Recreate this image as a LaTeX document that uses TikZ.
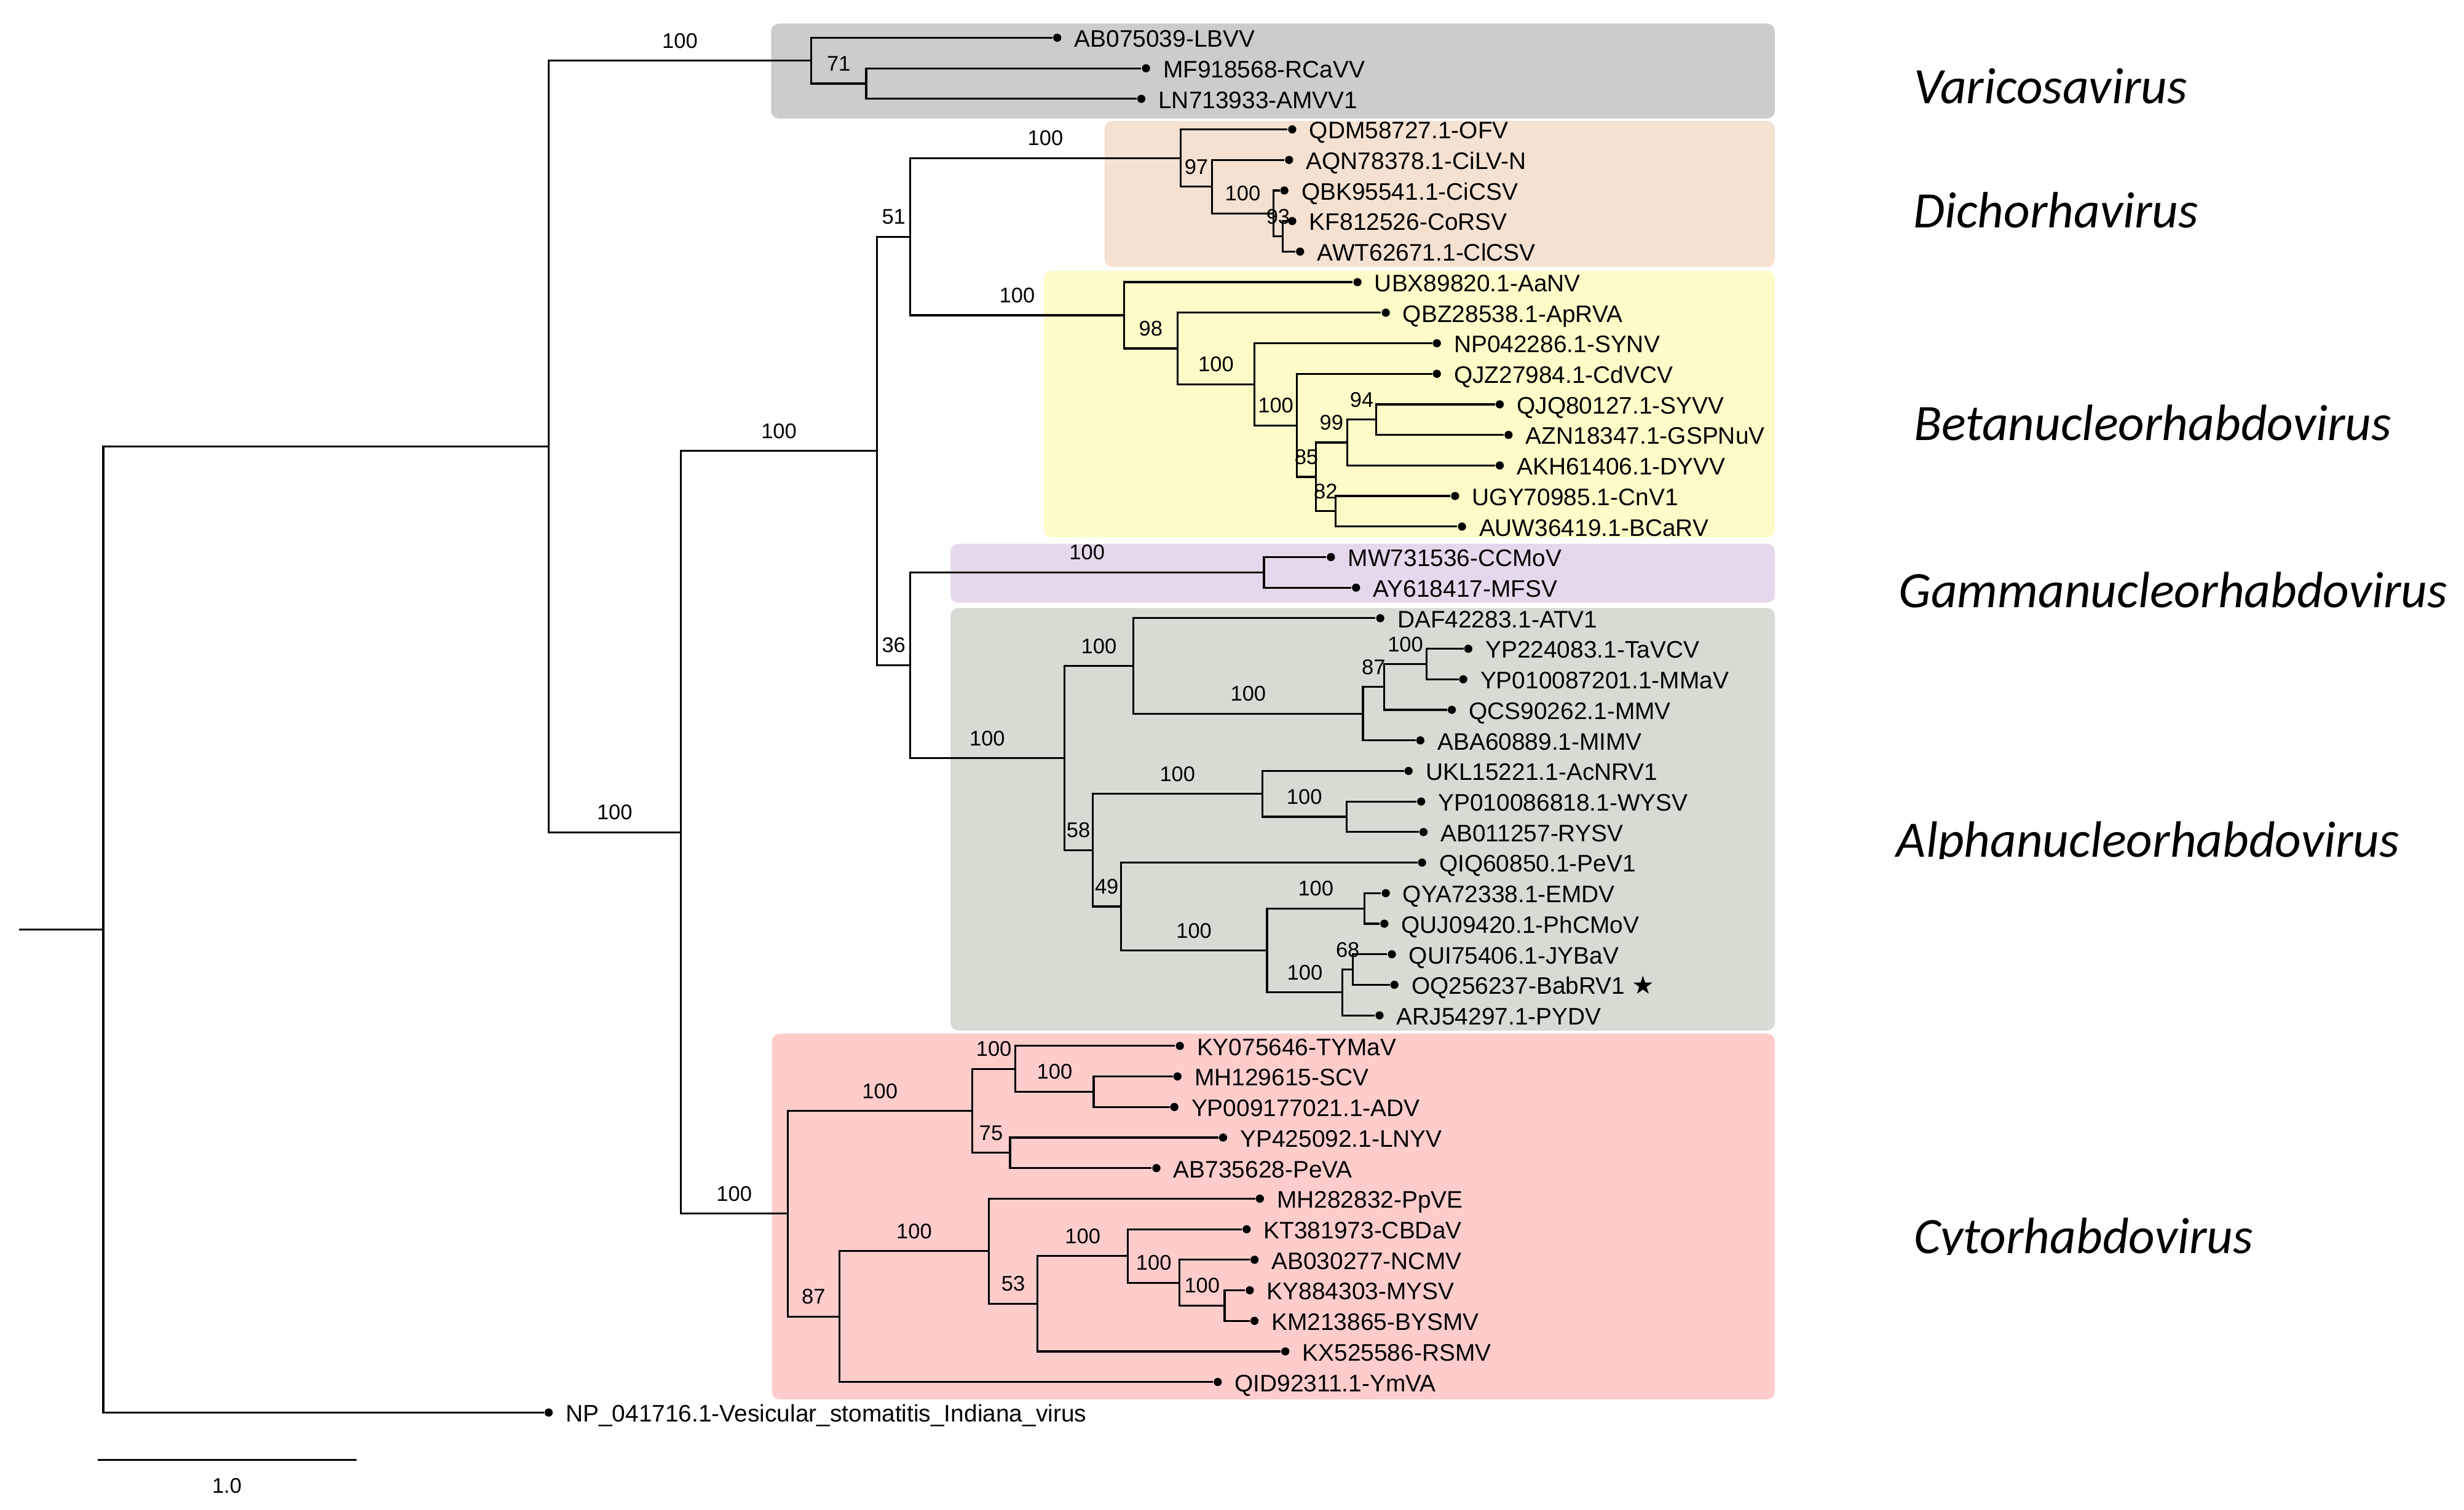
\documentclass[tikz,border=0pt]{standalone}
\usepackage{fontspec}
\setmainfont{Liberation Sans}
\newfontfamily\genusfont{Carlito}
\newfontfamily\symfont{DejaVu Sans}
\usetikzlibrary{calc}
\definecolor{varbg}{HTML}{CCCCCC}
\definecolor{dichbg}{HTML}{F4E1D2}
\definecolor{betabg}{HTML}{FDFCC9}
\definecolor{gammabg}{HTML}{E6D8EC}
\definecolor{alphabg}{HTML}{D5DDD3}
\definecolor{cytobg}{HTML}{FFCCCC}
\newcommand{\mkbr}[3]{\draw[branch] (#1) |- node[bs,pos=0.75]{#3} (#2);}
\newcommand{\mktip}[5]{%
  \node[tipdot] (#1) at (#3,#4) {};
  \draw[branch] (#2) |- (#1);
  \node[tiplab] (#1lab) at ($(#1.center)+(10.5,6)$) {#5};}
\begin{document}
\begin{tikzpicture}[x=0.5pt,y=-0.5pt,
  branch/.style={line width=0.62pt, black},
  bs/.style={font=\fontsize{6.75}{7}\selectfont, anchor=base, inner sep=0pt, yshift=4pt},
  tipdot/.style={circle, fill=black, inner sep=0pt, minimum size=2.6pt},
  tiplab/.style={font=\fontsize{7.6}{9}\selectfont, anchor=base west, inner sep=0pt},
  genus/.style={font=\genusfont\itshape\fontsize{16.25}{18}\selectfont, anchor=base west, inner sep=0pt},
  clade/.style={rounded corners=2.5pt}]
\useasboundingbox (0,0) rectangle (1567.4,960.6);
% clade boxes
\fill[varbg,clade] (490.5,15) rectangle (1129,75.4);
\fill[dichbg,clade] (702.6,77) rectangle (1129,170);
\fill[betabg,clade] (664,172.3) rectangle (1129,342);
\fill[gammabg,clade] (604.6,346) rectangle (1129,383.5);
\fill[alphabg,clade] (604.6,386.9) rectangle (1129,655.8);
\fill[cytobg,clade] (491,657.7) rectangle (1129,890.5);
% internal nodes
\coordinate (stub) at (12,591.45);
\coordinate (R) at (65.7,591.45);
\coordinate (A) at (349,284.1);
\coordinate (V0) at (516,38.58);
\coordinate (V1) at (551,53.16);
\coordinate (B) at (433,529.6);
\coordinate (C) at (558,286.94);
\coordinate (D) at (579,150.59);
\coordinate (Dich1) at (751,100.55);
\coordinate (Dich2) at (771,118.77);
\coordinate (Dich3) at (810,135.78);
\coordinate (Dich4) at (816,150.36);
\coordinate (B0) at (715,200.63);
\coordinate (B1) at (749,221.74);
\coordinate (B2) at (798,244.52);
\coordinate (B3) at (825,270.65);
\coordinate (B4) at (837,303.45);
\coordinate (B5) at (857,281.58);
\coordinate (B6) at (875.5,267.0);
\coordinate (B7) at (849.5,325.32);
\coordinate (E) at (579,423.28);
\coordinate (G) at (804,364.2);
\coordinate (A0) at (677,482.36);
\coordinate (A1) at (721,423.74);
\coordinate (A2) at (867,454.11);
\coordinate (A3) at (880.5,437.1);
\coordinate (A4) at (907.5,422.52);
\coordinate (A5) at (695,540.98);
\coordinate (A11) at (803,505.14);
\coordinate (A12) at (856.5,519.72);
\coordinate (A6) at (713,576.83);
\coordinate (A7) at (806,604.77);
\coordinate (A8) at (868,578.04);
\coordinate (A9) at (854,631.5);
\coordinate (A10) at (860.6,616.92);
\coordinate (C0) at (501,772.29);
\coordinate (C1) at (618.4,706.83);
\coordinate (C2) at (646,680.1);
\coordinate (C3) at (695.7,694.68);
\coordinate (C4) at (642.5,733.56);
\coordinate (C5) at (534,837.75);
\coordinate (C6) at (629,796.13);
\coordinate (C7) at (660,829.55);
\coordinate (C8) at (717.5,799.17);
\coordinate (C9) at (750.3,816.18);
\coordinate (C10) at (779,830.76);
% internal branches
\draw[branch] (stub) -- (R);
\mkbr{R}{A}{}
\mkbr{A}{V0}{100}
\mkbr{V0}{V1}{71}
\mkbr{A}{B}{100}
\mkbr{B}{C}{100}
\mkbr{C}{D}{51}
\mkbr{C}{E}{36}
\mkbr{D}{Dich1}{100}
\mkbr{Dich1}{Dich2}{97}
\mkbr{Dich2}{Dich3}{100}
\mkbr{Dich3}{Dich4}{93}
\mkbr{D}{B0}{100}
\mkbr{B0}{B1}{98}
\mkbr{B1}{B2}{100}
\mkbr{B2}{B3}{100}
\mkbr{B3}{B4}{85}
\mkbr{B4}{B5}{99}
\mkbr{B5}{B6}{94}
\mkbr{B4}{B7}{82}
\mkbr{E}{G}{100}
\mkbr{E}{A0}{100}
\mkbr{A0}{A1}{100}
\mkbr{A1}{A2}{100}
\mkbr{A2}{A3}{87}
\mkbr{A3}{A4}{100}
\mkbr{A0}{A5}{58}
\mkbr{A5}{A11}{100}
\mkbr{A11}{A12}{100}
\mkbr{A5}{A6}{49}
\mkbr{A6}{A7}{100}
\mkbr{A7}{A8}{100}
\mkbr{A7}{A9}{100}
\mkbr{A9}{A10}{68}
\mkbr{B}{C0}{100}
\mkbr{C0}{C1}{100}
\mkbr{C1}{C2}{100}
\mkbr{C2}{C3}{100}
\mkbr{C1}{C4}{75}
\mkbr{C0}{C5}{87}
\mkbr{C5}{C6}{100}
\mkbr{C6}{C7}{53}
\mkbr{C7}{C8}{100}
\mkbr{C8}{C9}{100}
\mkbr{C9}{C10}{100}
% tips
\mktip{t1}{V0}{672.5}{24.00}{AB075039-LBVV}
\mktip{t2}{V1}{729}{43.44}{MF918568-RCaVV}
\mktip{t3}{V1}{726}{62.88}{LN713933-AMVV1}
\mktip{t4}{Dich1}{822}{82.32}{QDM58727.1-OFV}
\mktip{t5}{Dich2}{820}{101.76}{AQN78378.1-CiLV-N}
\mktip{t6}{Dich3}{817}{121.20}{QBK95541.1-CiCSV}
\mktip{t7}{Dich4}{822}{140.64}{KF812526-CoRSV}
\mktip{t8}{Dich4}{827}{160.08}{AWT62671.1-ClCSV}
\mktip{t9}{B0}{863.5}{179.52}{UBX89820.1-AaNV}
\mktip{t10}{B1}{881.5}{198.96}{QBZ28538.1-ApRVA}
\mktip{t11}{B2}{914}{218.40}{NP042286.1-SYNV}
\mktip{t12}{B3}{914}{237.84}{QJZ27984.1-CdVCV}
\mktip{t13}{B6}{954}{257.28}{QJQ80127.1-SYVV}
\mktip{t14}{B6}{959.6}{276.72}{AZN18347.1-GSPNuV}
\mktip{t15}{B5}{954}{296.16}{AKH61406.1-DYVV}
\mktip{t16}{B7}{925.6}{315.60}{UGY70985.1-CnV1}
\mktip{t17}{B7}{930}{335.04}{AUW36419.1-BCaRV}
\mktip{t18}{G}{846.6}{354.48}{MW731536-CCMoV}
\mktip{t19}{G}{862.6}{373.92}{AY618417-MFSV}
\mktip{t20}{A1}{878}{393.36}{DAF42283.1-ATV1}
\mktip{t21}{A4}{934}{412.80}{YP224083.1-TaVCV}
\mktip{t22}{A4}{930.8}{432.24}{YP010087201.1-MMaV}
\mktip{t23}{A3}{923.5}{451.68}{QCS90262.1-MMV}
\mktip{t24}{A2}{903.5}{471.12}{ABA60889.1-MIMV}
\mktip{t25}{A11}{896}{490.56}{UKL15221.1-AcNRV1}
\mktip{t26}{A12}{904}{510.00}{YP010086818.1-WYSV}
\mktip{t27}{A12}{905.5}{529.44}{AB011257-RYSV}
\mktip{t28}{A6}{904.6}{548.88}{QIQ60850.1-PeV1}
\mktip{t29}{A8}{881.5}{568.32}{QYA72338.1-EMDV}
\mktip{t30}{A8}{880.6}{587.76}{QUJ09420.1-PhCMoV}
\mktip{t31}{A10}{885.4}{607.20}{QUI75406.1-JYBaV}
\mktip{t32}{A10}{887}{626.64}{OQ256237-BabRV1 {\symfont\fontsize{8}{9}\selectfont ★}}
\mktip{t33}{A9}{877.5}{646.08}{ARJ54297.1-PYDV}
\mktip{t34}{C2}{750.5}{665.52}{KY075646-TYMaV}
\mktip{t35}{C3}{749}{684.96}{MH129615-SCV}
\mktip{t36}{C3}{747}{704.40}{YP009177021.1-ADV}
\mktip{t37}{C4}{778}{723.84}{YP425092.1-LNYV}
\mktip{t38}{C4}{735.6}{743.28}{AB735628-PeVA}
\mktip{t39}{C6}{801.4}{762.72}{MH282832-PpVE}
\mktip{t40}{C8}{793}{782.16}{KT381973-CBDaV}
\mktip{t41}{C9}{798}{801.60}{AB030277-NCMV}
\mktip{t42}{C10}{795}{821.04}{KY884303-MYSV}
\mktip{t43}{C10}{798}{840.48}{KM213865-BYSMV}
\mktip{t44}{C7}{817.6}{859.92}{KX525586-RSMV}
\mktip{t45}{C5}{774.6}{879.36}{QID92311.1-YmVA}
\mktip{t46}{R}{349}{898.8}{NP\_041716.1-Vesicular\_stomatitis\_Indiana\_virus}
% scale bar
\coordinate (sb1) at (62,929);
\coordinate (sb2) at (226.7,929);
\draw[branch] (sb1) -- (sb2);
\node[font=\fontsize{6.75}{7}\selectfont, inner sep=0pt] (sblab) at (144.3,945.6) {1.0};
% genus labels
\node[genus] (gV) at (1217,65.9) {Varicosavirus};
\node[genus] (gD) at (1216.6,144.7) {Dichorhavirus};
\node[genus] (gB) at (1217,280.2) {Betanucleorhabdovirus};
\node[genus] (gG) at (1207.5,386.7) {Gammanucleorhabdovirus};
\begin{scope}
\clip (1150,500) rectangle (1567.4,546.5);
\node[genus] (gA) at (1206,545.5) {Alphanucleorhabdovirus};
\end{scope}
\begin{scope}
\clip (1150,750) rectangle (1567.4,798.5);
\node[genus] (gC) at (1217,797.5) {Cytorhabdovirus};
\end{scope}
\end{tikzpicture}
\end{document}
